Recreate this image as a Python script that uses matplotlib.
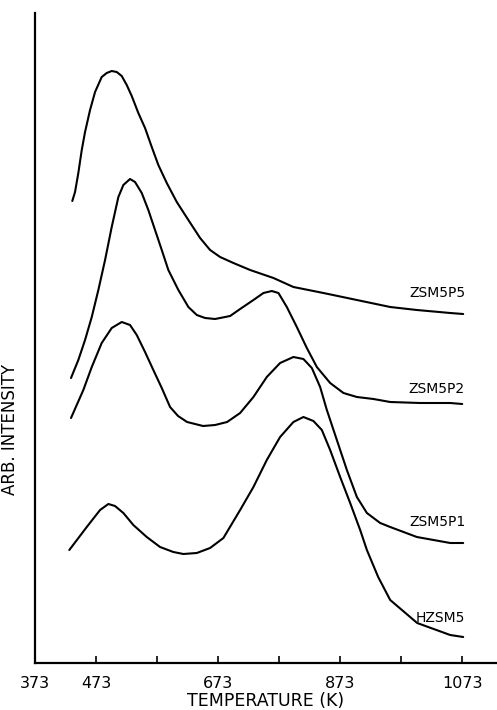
import matplotlib
matplotlib.use("Agg")
import matplotlib.pyplot as plt

# Temperatures (K) and arbitrary intensities
t_p5 = [434.1, 438.6, 444.0, 449.6, 455.0, 463.2, 471.4, 482.3, 490.5, 498.7, 506.9, 515.1,
        523.3, 531.5, 542.3, 553.3, 564.3, 575.1, 588.9, 605.3, 624.3, 643.5, 659.9, 676.3,
        698.1, 725.5, 763.7, 796.4, 845.6, 900.4, 955.0, 998.7, 1053.3, 1074.6]
i_p5 = [462, 471, 490, 513, 531, 553, 571, 586, 590, 592, 591, 587,
        578, 567, 550, 535, 516, 498, 480, 461, 443, 425, 413, 406,
        400, 393, 385, 376, 370, 363, 356, 353, 350, 349]

t_p2 = [432.0, 444.0, 455.0, 466.0, 476.8, 487.8, 498.7, 509.6, 517.8, 528.7, 536.9, 547.9,
        558.7, 569.7, 580.7, 591.5, 607.9, 624.3, 638.1, 651.7, 668.1, 692.7, 709.1, 730.9,
        747.3, 761.0, 771.9, 785.6, 802.0, 818.4, 834.8, 856.6, 878.4, 900.4, 927.6, 955.0,
        1004.1, 1053.3, 1073.0]
i_p2 = [285, 303, 323, 346, 373, 403, 436, 466, 478, 484, 481, 470,
        453, 433, 413, 393, 373, 356, 348, 345, 344, 347, 354, 363,
        370, 372, 370, 356, 336, 315, 296, 280, 270, 266, 264, 261,
        260, 260, 259]

t_p1 = [432.0, 452.2, 466.0, 482.3, 498.7, 515.1, 528.7, 539.7, 553.3, 566.9, 580.7, 594.3,
        607.4, 622.2, 648.4, 668.1, 687.8, 709.1, 730.9, 752.8, 774.6, 796.4, 812.8, 826.6,
        840.2, 851.2, 867.6, 884.0, 900.4, 916.8, 938.6, 955.0, 998.7, 1053.3, 1074.6]
i_p1 = [245, 273, 296, 320, 335, 341, 338, 328, 311, 293, 275, 256,
        247, 241, 237, 238, 241, 250, 266, 286, 300, 306, 304, 295,
        276, 253, 223, 193, 166, 150, 140, 136, 126, 120, 120]

t_hz = [429.2, 457.8, 479.6, 493.2, 504.1, 517.8, 534.1, 556.1, 577.9, 599.7, 616.1, 638.1,
        659.9, 681.7, 709.1, 730.9, 752.8, 774.6, 796.4, 812.8, 829.2, 843.0, 856.6, 873.0,
        889.4, 905.8, 916.8, 935.3, 955.0, 999.2, 1053.3, 1074.6]
i_hz = [113, 136, 153, 159, 157, 150, 138, 126, 116, 111, 109, 110,
        115, 125, 153, 176, 203, 226, 241, 246, 242, 233, 213, 186,
        160, 133, 113, 86, 63, 40, 28, 26]

names = ["ZSM5P5", "ZSM5P2", "ZSM5P1", "HZSM5"]
series_t = [t_p5, t_p2, t_p1, t_hz]
series_i = [i_p5, i_p2, i_p1, i_hz]
label_offsets_px = [21, 15, 21, 19]

major_ticks = [373, 473, 673, 873, 1073]
minor_ticks = [573, 773, 973]

fig = plt.figure(figsize=(4.97, 7.10), dpi=100)
ax = fig.add_axes([35 / 497, 47 / 710, 462 / 497, 650 / 710])

for t, i in zip(series_t, series_i):
    ax.plot(t, i, color="black", lw=1.5, solid_joinstyle="round", solid_capstyle="round")

for name, t, i, off in zip(names, series_t, series_i, label_offsets_px):
    ax.annotate(name, xy=(t[-1], i[-1]), xytext=(2 * 0.72, off * 0.72),
                textcoords="offset points", ha="right", va="center", fontsize=10)

ax.set_xlim(373, 1130)
ax.set_ylim(0, 650)

for s in ["top", "right"]:
    ax.spines[s].set_visible(False)
for s in ["left", "bottom"]:
    ax.spines[s].set_linewidth(1.6)

ax.set_xticks(major_ticks)
ax.set_xticklabels([str(v) for v in major_ticks])
ax.set_xticks(minor_ticks, minor=True)
ax.tick_params(axis="x", which="both", direction="in", length=5, width=1.2, pad=9, labelsize=11.5)
ax.set_yticks([])

ax.set_xlabel("TEMPERATURE (K)", fontsize=12.5, labelpad=1)
ax.set_ylabel("ARB. INTENSITY", fontsize=12)
ax.yaxis.set_label_coords(-0.035, 0.36)

fig.savefig("out.png", dpi=100)
